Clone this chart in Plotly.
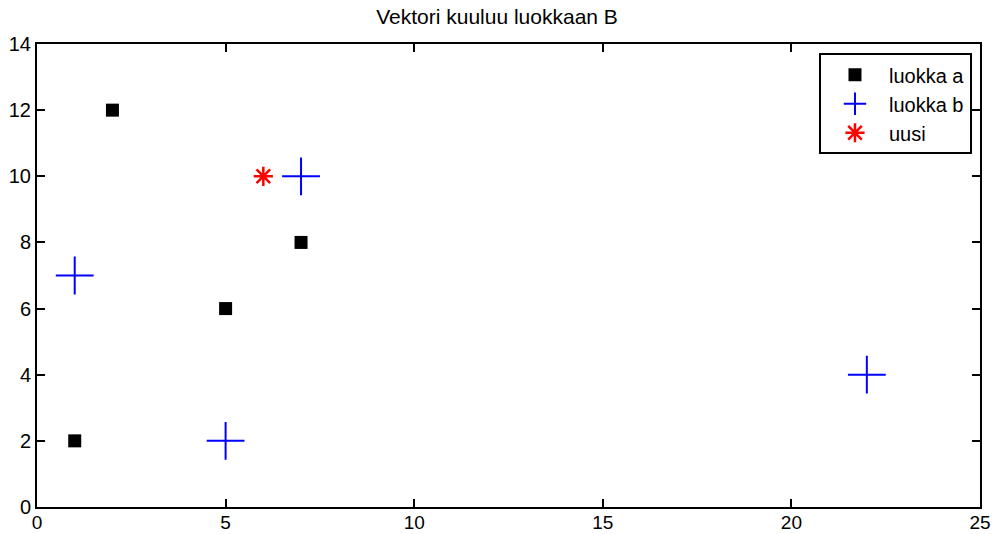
import plotly.graph_objects as go

# Class A sample vectors
luokka_a_x = [1, 2, 5, 7]
luokka_a_y = [2, 12, 6, 8]

# Class B sample vectors
luokka_b_x = [1, 5, 7, 22]
luokka_b_y = [7, 2, 10, 4]

# New vector being classified
uusi_x = [6]
uusi_y = [10]

x_ticks = [0, 5, 10, 15, 20, 25]
y_ticks = [0, 2, 4, 6, 8, 10, 12, 14]

FONT = "Liberation Sans, Arial, Helvetica, sans-serif"

fig = go.Figure()
fig.add_trace(go.Scatter(
    x=luokka_a_x, y=luokka_a_y, mode="markers", name="luokka a",
    marker=dict(symbol="square", size=13, color="black",
                line=dict(width=0)),
))
fig.add_trace(go.Scatter(
    x=luokka_b_x, y=luokka_b_y, mode="markers", name="luokka b",
    marker=dict(symbol="cross-thin-open", size=27, color="blue",
                line=dict(width=2, color="blue")),
))
fig.add_trace(go.Scatter(
    x=uusi_x, y=uusi_y, mode="markers", name="uusi",
    marker=dict(symbol="asterisk-open", size=16, color="red",
                line=dict(width=2.5, color="red")),
))

axis_common = dict(
    showline=True, linecolor="black", linewidth=2, mirror="ticks",
    ticks="inside", ticklen=8, tickwidth=2, tickcolor="black",
    showgrid=False, zeroline=False, automargin=False,
)

fig.update_xaxes(range=[0, 25], tickvals=x_ticks, ticklabelstandoff=-3,
                 tickfont=dict(family=FONT, size=19, color="black"),
                 **axis_common)
fig.update_yaxes(range=[0, 14], tickvals=y_ticks,
                 tickfont=dict(family=FONT, size=20, color="black"),
                 **axis_common)

fig.update_layout(
    width=994, height=534,
    margin=dict(l=37, r=14, t=44, b=27),
    paper_bgcolor="white", plot_bgcolor="white",
    title=dict(text="Vektori kuuluu luokkaan B", x=0.5, xanchor="center",
               y=1 - 17 / 534, yanchor="middle",
               font=dict(family=FONT, size=21, color="black")),
    legend=dict(x=0.9915, y=0.98, xanchor="right", yanchor="top",
                bgcolor="white", bordercolor="black", borderwidth=2,
                font=dict(family=FONT, size=20, color="black"),
                itemwidth=58, tracegroupgap=0),
    showlegend=True,
)

fig.write_html("out.html")
